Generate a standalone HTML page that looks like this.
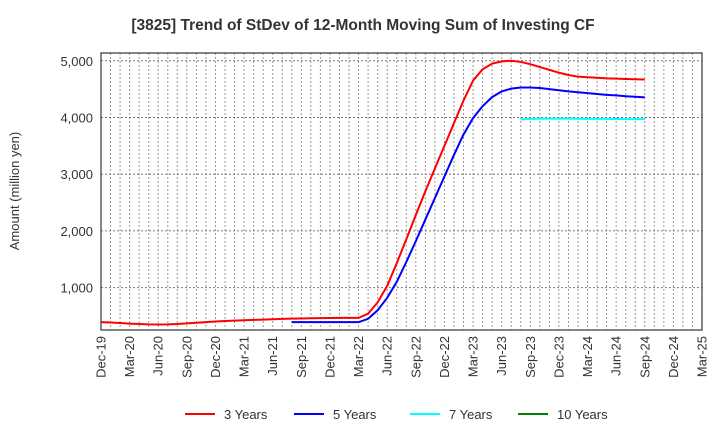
<!DOCTYPE html>
<html><head><meta charset="utf-8"><style>
body{margin:0;background:#fff;font-family:"Liberation Sans",sans-serif}
svg text{font-family:"Liberation Sans",sans-serif}
</style></head><body>
<svg id="chart" width="720" height="440" xmlns="http://www.w3.org/2000/svg">
<text x="363" y="30" text-anchor="middle" font-size="15.5" font-weight="bold" fill="#333">[3825]  Trend of StDev of 12-Month Moving Sum of Investing CF</text>
<text transform="translate(19,191) rotate(-90)" text-anchor="middle" font-size="13" fill="#333">Amount (million yen)</text>
<g id="grid"></g>
<g id="axes"></g>
<g id="series"></g>
<g id="legend"></g>
</svg>
<script>
const xLabels=["Dec-19","Mar-20","Jun-20","Sep-20","Dec-20","Mar-21","Jun-21","Sep-21","Dec-21","Mar-22","Jun-22","Sep-22","Dec-22","Mar-23","Jun-23","Sep-23","Dec-23","Mar-24","Jun-24","Sep-24","Dec-24","Mar-25"];
const yTicks=[1000,2000,3000,4000,5000];
const yTickLabels=["1,000","2,000","3,000","4,000","5,000"];
const seriesNames=["3 Years","5 Years","7 Years","10 Years"];
const seriesColors=["#ff0000","#0000ff","#00ffff","#008000"];
const threeYearStart=0;
const threeYear=[390,385,375,365,358,352,350,352,358,368,380,392,402,410,418,425,430,436,442,448,452,456,460,462,464,466,466,466,540,740,1030,1430,1850,2280,2700,3100,3500,3900,4300,4650,4850,4950,4990,5000,4980,4940,4890,4840,4790,4750,4720,4710,4700,4690,4685,4680,4675,4670];
const fiveYearStart=20;
const fiveYear=[390,390,390,390,390,390,390,390,450,600,820,1100,1450,1820,2200,2580,2960,3340,3700,3990,4200,4360,4460,4510,4530,4530,4520,4500,4480,4460,4445,4430,4415,4400,4390,4375,4365,4355];
const sevenYearStart=44;
const sevenYear=[3965,3975,3978,3980,3980,3980,3978,3976,3975,3975,3974,3973,3972,3972];
const tenYearStart=0;
const tenYear=[];

const NS="http://www.w3.org/2000/svg";
const L=101,R=702,T=53,B=330,months=63;
const xS=m=>L+(R-L)*m/months;
const yS=v=>344.3-(v/1000)*56.7;
function mk(tag,attrs,parent){const e=document.createElementNS(NS,tag);for(const k in attrs)e.setAttribute(k,attrs[k]);parent.appendChild(e);return e;}
const grid=document.getElementById('grid'),axes=document.getElementById('axes'),ser=document.getElementById('series'),leg=document.getElementById('legend');
for(let m=1;m<months;m++){const l=mk('line',{x1:xS(m),x2:xS(m),y1:T,y2:B,stroke:'#999','stroke-dasharray':'2,2','stroke-width':1},grid);

}
yTicks.forEach((v,i)=>{const l=mk('line',{x1:L,x2:R,y1:yS(v),y2:yS(v),stroke:'#777','stroke-dasharray':'2,2','stroke-width':1},grid);


const t=mk('text',{x:L-8,y:yS(v)+5,'text-anchor':'end','font-size':13,fill:'#333'},axes);t.textContent=yTickLabels[i];

});
xLabels.forEach((s,i)=>{const x=xS(i*3);const t=mk('text',{transform:`translate(${x+4.5},${B+6}) rotate(-90)`,'text-anchor':'end','font-size':13,fill:'#333'},axes);t.textContent=s;

});
const fr=mk('rect',{x:L,y:T,width:R-L,height:B-T,fill:'none',stroke:'#444','stroke-width':1.3},axes);


const all=[[threeYear,threeYearStart],[fiveYear,fiveYearStart],[sevenYear,sevenYearStart],[tenYear,tenYearStart]];
all.forEach(([d,s],k)=>{if(!d.length)return;const p=mk('polyline',{points:d.map((v,i)=>xS(s+i)+','+yS(v)).join(' '),fill:'none',stroke:seriesColors[k],'stroke-width':2},ser);

});
const lx=[185,294,410,518];
seriesNames.forEach((n,k)=>{const g=mk('g',{},leg);


mk('line',{x1:lx[k],x2:lx[k]+30,y1:414,y2:414,stroke:seriesColors[k],'stroke-width':2},g);
const t=mk('text',{x:lx[k]+39,y:419,'font-size':13,fill:'#333'},g);t.textContent=n;});
</script>
</body></html>
